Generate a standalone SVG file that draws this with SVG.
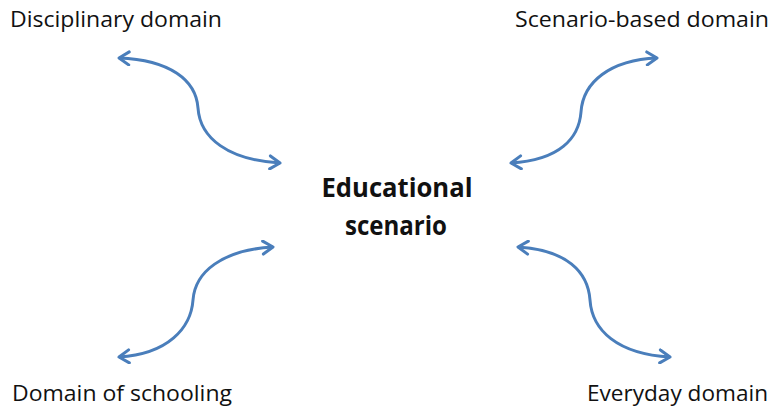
<svg xmlns="http://www.w3.org/2000/svg" width="771" height="408" viewBox="0 0 771 408">
<style>
.lbl{font-family:"Open Sans","Liberation Sans",sans-serif;font-size:21px;fill:#111}
.ctr{font-family:"Open Sans","Liberation Sans",sans-serif;font-size:27px;font-weight:bold;fill:#111;text-anchor:middle}
.con{fill:none;stroke:#4a7ebb;stroke-width:3;marker-start:url(#ah);marker-end:url(#ah)}
</style>
<defs>
<marker id="ah" markerUnits="userSpaceOnUse" orient="auto-start-reverse" viewBox="-12 -8 14 16" markerWidth="14" markerHeight="16" refX="0" refY="0">
<path d="M-10,-6.5 L0,0 L-10,6.5" fill="none" stroke="#4a7ebb" stroke-width="3" stroke-linecap="round" stroke-linejoin="round"/>
</marker>
</defs>
<rect width="771" height="408" fill="#fff"/>
<g id="connectors">
<path class="con" d="M119,58 C170,60 196,80 198,108 C200,138 228,160 280,163"/>
<path class="con" d="M511,163 C560,160 579,138 581,112 C583,82 610,60 657,58"/>
<path class="con" d="M119,357 C168,354 191,328 193,300 C195,272 222,250 273,247"/>
<path class="con" d="M518,247 C567,250 588,272 590,300 C592,330 617,354 670,357"/>
</g>
<g id="center"><text class="ctr" x="397" y="197" textLength="151" lengthAdjust="spacingAndGlyphs">Educational</text><text class="ctr" x="396" y="235" textLength="102" lengthAdjust="spacingAndGlyphs">scenario</text></g>
<g id="disciplinary"><text class="lbl" x="10" y="27" textLength="212" lengthAdjust="spacingAndGlyphs">Disciplinary domain</text></g>
<g id="scenario-based"><text class="lbl" x="515" y="27" textLength="254" lengthAdjust="spacingAndGlyphs">Scenario-based domain</text></g>
<g id="schooling"><text class="lbl" x="12" y="401" textLength="220" lengthAdjust="spacingAndGlyphs">Domain of schooling</text></g>
<g id="everyday"><text class="lbl" x="587" y="401" textLength="181" lengthAdjust="spacingAndGlyphs">Everyday domain</text></g>
</svg>
